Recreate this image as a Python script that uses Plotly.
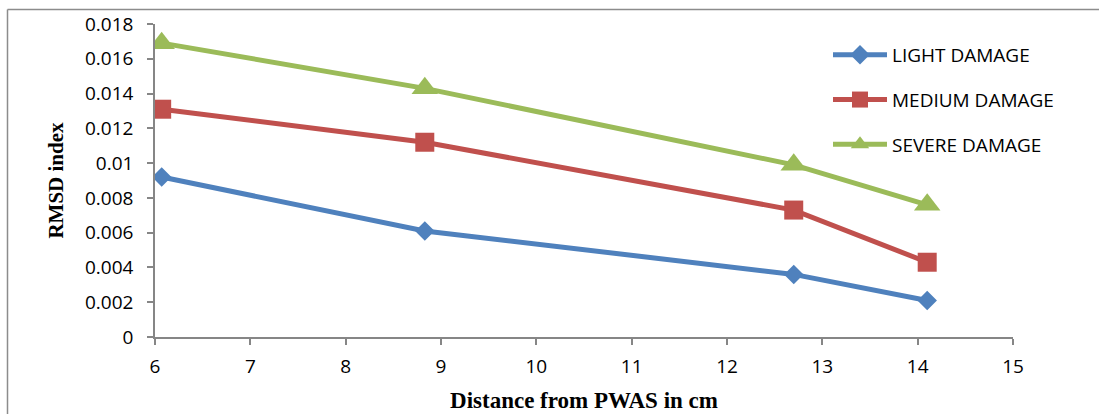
import plotly.graph_objects as go

# Distance of the sensor from the PWAS (cm)
distance_cm = [6.07, 8.83, 12.7, 14.1]

# RMSD index for each damage level
light_damage = [0.0092, 0.0061, 0.0036, 0.0021]
medium_damage = [0.0131, 0.0112, 0.0073, 0.0043]
severe_damage = [0.0169, 0.0143, 0.0099, 0.0076]

series = [
    ("LIGHT DAMAGE", light_damage, "#4F81BD", "diamond", 15),
    ("MEDIUM DAMAGE", medium_damage, "#C0504D", "square", 19),
    ("SEVERE DAMAGE", severe_damage, "#9BBB59", "triangle-up", 23),
]

W, H = 1099, 414
ML, MR, MT, MB = 155, 86, 24, 77
plot_w = W - ML - MR
plot_h = H - MT - MB

fig = go.Figure()
for i, (name, vals, color, sym, size) in enumerate(series):
    fig.add_trace(go.Scatter(
        x=distance_cm, y=vals, name=name, mode="lines+markers",
        line=dict(color=color, width=5),
        marker=dict(symbol=sym, size=size, color=color),
        legendgroup=f"g{i}",
    ))

axis_grey = "#868686"
tick_font = dict(family="Open Sans", size=19, color="#000000")

fig.update_xaxes(
    range=[6, 15], tickvals=list(range(6, 16)), showgrid=False, zeroline=False,
    showline=True, linecolor=axis_grey, linewidth=1.5,
    ticks="outside", ticklen=6, tickcolor=axis_grey, tickwidth=1.5,
    tickfont=tick_font, ticklabelstandoff=5, automargin=False,
    title=dict(text="<b>Distance from PWAS in cm</b>",
               font=dict(family="Liberation Serif", size=23, color="#000000"), standoff=14),
)
fig.update_yaxes(
    range=[0, 0.018], tickvals=[0, 0.002, 0.004, 0.006, 0.008, 0.01, 0.012, 0.014, 0.016, 0.018],
    ticktext=["0", "0.002", "0.004", "0.006", "0.008", "0.01", "0.012", "0.014", "0.016", "0.018"],
    showgrid=False, zeroline=False,
    showline=True, linecolor=axis_grey, linewidth=1.5,
    ticks="outside", ticklen=6, tickcolor=axis_grey, tickwidth=1.5,
    tickfont=tick_font, ticklabelstandoff=10, automargin=False,
    title=dict(text="<b>RMSD index</b>",
               font=dict(family="Liberation Serif", size=21, color="#000000"), standoff=16),
)

# Outer chart frame (left and top edges)
frame_x = (7.5 - ML) / plot_w
frame_y = (H - MB - 9.5) / plot_h
fig.add_shape(type="line", xref="paper", yref="paper",
              x0=frame_x, x1=frame_x, y0=frame_y, y1=-MB / plot_h - 0.01,
              line=dict(color="#8C8C8C", width=1.5))
fig.add_shape(type="line", xref="paper", yref="paper",
              x0=frame_x, x1=(W - ML) / plot_w + 0.01, y0=frame_y, y1=frame_y,
              line=dict(color="#8C8C8C", width=1.5))

fig.update_layout(
    width=W, height=H,
    margin=dict(l=ML, r=MR, t=MT, b=MB, autoexpand=False),
    paper_bgcolor="white", plot_bgcolor="white",
    showlegend=True,
    legend=dict(
        x=(828 - ML) / plot_w, y=(H - MB - 36) / plot_h, xanchor="left", yanchor="top",
        font=dict(family="Open Sans", size=19, color="#000000"),
        itemwidth=54, tracegroupgap=17, bgcolor="rgba(0,0,0,0)",
    ),
)

fig.write_html("out.html")
